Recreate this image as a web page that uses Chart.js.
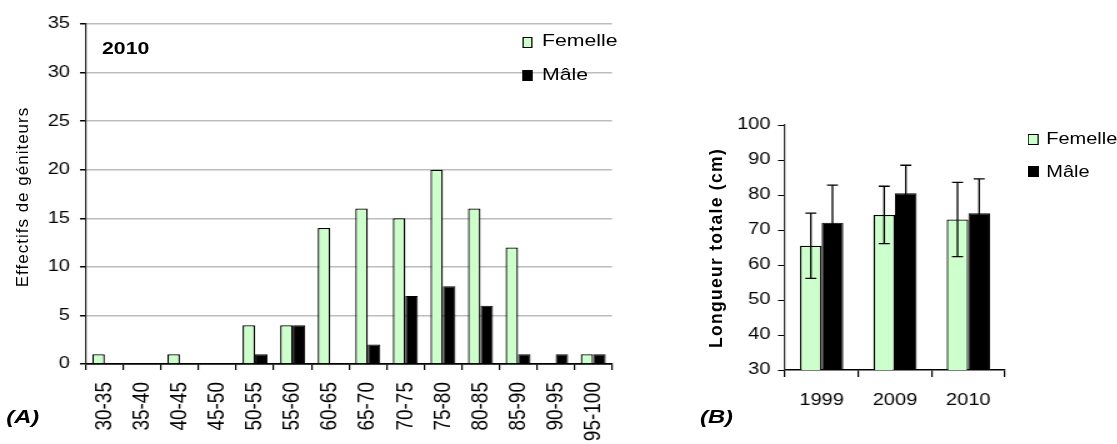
<!DOCTYPE html>
<html><head><meta charset="utf-8">
<script src="https://cdn.jsdelivr.net/npm/chart.js@4"></script>
<style>
html,body{margin:0;padding:0;background:#fff;}
body{width:1117px;height:444px;position:relative;overflow:hidden;font-family:'Liberation Sans',Arial,sans-serif;color:#000;}
#wrap{position:absolute;left:0;top:0;width:893.6px;height:444px;transform:scaleX(1.25);transform-origin:0 0;}
.abs{position:absolute;white-space:nowrap;}
canvas{position:absolute;top:0;}
.rot{position:absolute;white-space:nowrap;transform:translate(-50%,-50%) scaleX(0.8) rotate(-90deg);}
.box{position:absolute;width:8.8px;height:11px;box-sizing:border-box;border:1px solid #000;}
</style></head><body>
<div id="wrap">
<canvas id="ca" width="512" height="444" style="left:0px;width:512px;height:444px"></canvas>
<canvas id="cb" width="366" height="444" style="left:528px;width:366px;height:444px"></canvas>

<div class="rot" style="left:18.4px;top:197px;font-size:17px;letter-spacing:1px;">Effectifs de géniteurs</div>
<div class="abs" style="left:81.6px;top:38.5px;font-size:17px;line-height:20px;font-weight:bold;">2010</div>
<div class="box" style="left:417.6px;top:37px;background:#CCFFCC;"></div>
<div class="abs" style="left:433.6px;top:31px;font-size:17px;line-height:20px;">Femelle</div>
<div class="box" style="left:417.6px;top:70px;background:#000;"></div>
<div class="abs" style="left:433.6px;top:65px;font-size:17px;line-height:20px;">Mâle</div>
<div class="abs" style="left:5px;top:406px;font-size:19px;line-height:22px;font-weight:bold;font-style:italic;">(A)</div>

<div class="rot" style="left:572.8px;top:248px;font-size:17.5px;font-weight:bold;letter-spacing:1.3px;">Longueur totale (cm)</div>
<div class="box" style="left:822.4px;top:134px;background:#CCFFCC;"></div>
<div class="abs" style="left:837px;top:129px;font-size:16px;line-height:20px;">Femelle</div>
<div class="box" style="left:822.4px;top:166px;background:#000;"></div>
<div class="abs" style="left:837px;top:162px;font-size:16px;line-height:20px;">Mâle</div>
<div class="abs" style="left:560px;top:406px;font-size:19px;line-height:22px;font-weight:bold;font-style:italic;">(B)</div>
</div>

<script>
// ---- Data (A): size-class histogram, 2010
const sizeClasses = ['30-35','35-40','40-45','45-50','50-55','55-60','60-65','65-70','70-75','75-80','80-85','85-90','90-95','95-100'];
const femaleCounts = [1,0,1,0,4,4,14,16,15,20,16,12,0,1];
const maleCounts   = [0,0,0,0,1,4,0,2,7,8,6,1,1,1];

// ---- Data (B): mean total length with SD
const years = ['1999','2009','2010'];
const femaleLength = [65.5,74.3,73.0];
const femaleSD     = [9.3,8.2,10.6];
const maleLength   = [72.1,80.5,74.8];
const maleSD       = [10.7,8.0,9.8];

const seriesNames = ['Femelle','Mâle'];
const FEMALE = '#CCFFCC';
const MALE = '#000000';
const FONT = "'Liberation Sans', Arial, sans-serif";

const errorBars = {
  id:'errorBars',
  afterDatasetsDraw(chart, args, opts){
    const ctx = chart.ctx;
    const y = chart.scales.y;
    ctx.save();
    ctx.strokeStyle = '#000';
    ctx.lineWidth = 1.3;
    opts.sd.forEach((sdArr, di) => {
      const meta = chart.getDatasetMeta(di);
      const vals = chart.data.datasets[di].data;
      meta.data.forEach((el, i) => {
        const top = y.getPixelForValue(vals[i] + sdArr[i]);
        const bot = y.getPixelForValue(vals[i] - sdArr[i]);
        ctx.beginPath();
        ctx.moveTo(el.x, top); ctx.lineTo(el.x, bot);
        ctx.moveTo(el.x - 4.4, top); ctx.lineTo(el.x + 4.4, top);
        ctx.moveTo(el.x - 4.4, bot); ctx.lineTo(el.x + 4.4, bot);
        ctx.stroke();
      });
    });
    ctx.restore();
  }
};

Chart.defaults.font.family = FONT;
Chart.defaults.font.size = 16;
Chart.defaults.color = '#000';

new Chart(document.getElementById('ca'), {
  type:'bar',
  data:{
    labels:sizeClasses,
    datasets:[
      {label:seriesNames[0], data:femaleCounts, backgroundColor:FEMALE, borderColor:'#000', borderWidth:1.3},
      {label:seriesNames[1], data:maleCounts, backgroundColor:MALE, borderColor:'#000', borderWidth:1}
    ]
  },
  options:{
    responsive:false, animation:false,
    categoryPercentage:0.665, barPercentage:1,
    layout:{padding:{top:24,right:22.4,bottom:0,left:0}},
    plugins:{legend:{display:false}, tooltip:{enabled:false}},
    scales:{
      x:{
        afterFit(s){ s.height = 80; },
        grid:{drawOnChartArea:false, drawTicks:true, tickLength:6, tickColor:'#000', offset:true, lineWidth:1.2},
        border:{color:'#000', width:1.5},
        ticks:{autoSkip:false, minRotation:90, maxRotation:90, padding:12, font:{size:19}}
      },
      y:{
        min:0, max:35,
        afterFit(s){ s.width = 68.8; },
        grid:{color:c => c.tick && c.tick.value === 0 ? '#000' : '#bdbdbd', lineWidth:1.5, tickLength:4.8, tickColor:'#000'},
        border:{color:'#222', width:1.2},
        ticks:{stepSize:5, padding:8, font:{size:16}}
      }
    }
  }
});

new Chart(document.getElementById('cb'), {
  type:'bar',
  data:{
    labels:years,
    datasets:[
      {label:seriesNames[0], data:femaleLength, backgroundColor:FEMALE, borderColor:'#000', borderWidth:1.3},
      {label:seriesNames[1], data:maleLength, backgroundColor:MALE, borderColor:'#000', borderWidth:1}
    ]
  },
  options:{
    responsive:false, animation:false,
    categoryPercentage:0.59, barPercentage:1,
    layout:{padding:{top:125,right:90,bottom:0,left:0}},
    plugins:{legend:{display:false}, tooltip:{enabled:false}, errorBars:{sd:[femaleSD, maleSD]}},
    scales:{
      x:{
        afterFit(s){ s.height = 74; },
        grid:{drawOnChartArea:false, drawTicks:true, tickLength:7, tickColor:'#000', offset:true, lineWidth:1.2},
        border:{color:'#000', width:1.5},
        ticks:{padding:14, maxRotation:0, font:{size:16}}
      },
      y:{
        min:30, max:100,
        afterFit(s){ s.width = 100; },
        grid:{drawOnChartArea:false, tickLength:5.6, tickColor:'#000'},
        border:{color:'#333', width:1.2},
        ticks:{stepSize:10, padding:6, font:{size:16}}
      }
    }
  },
  plugins:[errorBars]
});
</script>
</body></html>
